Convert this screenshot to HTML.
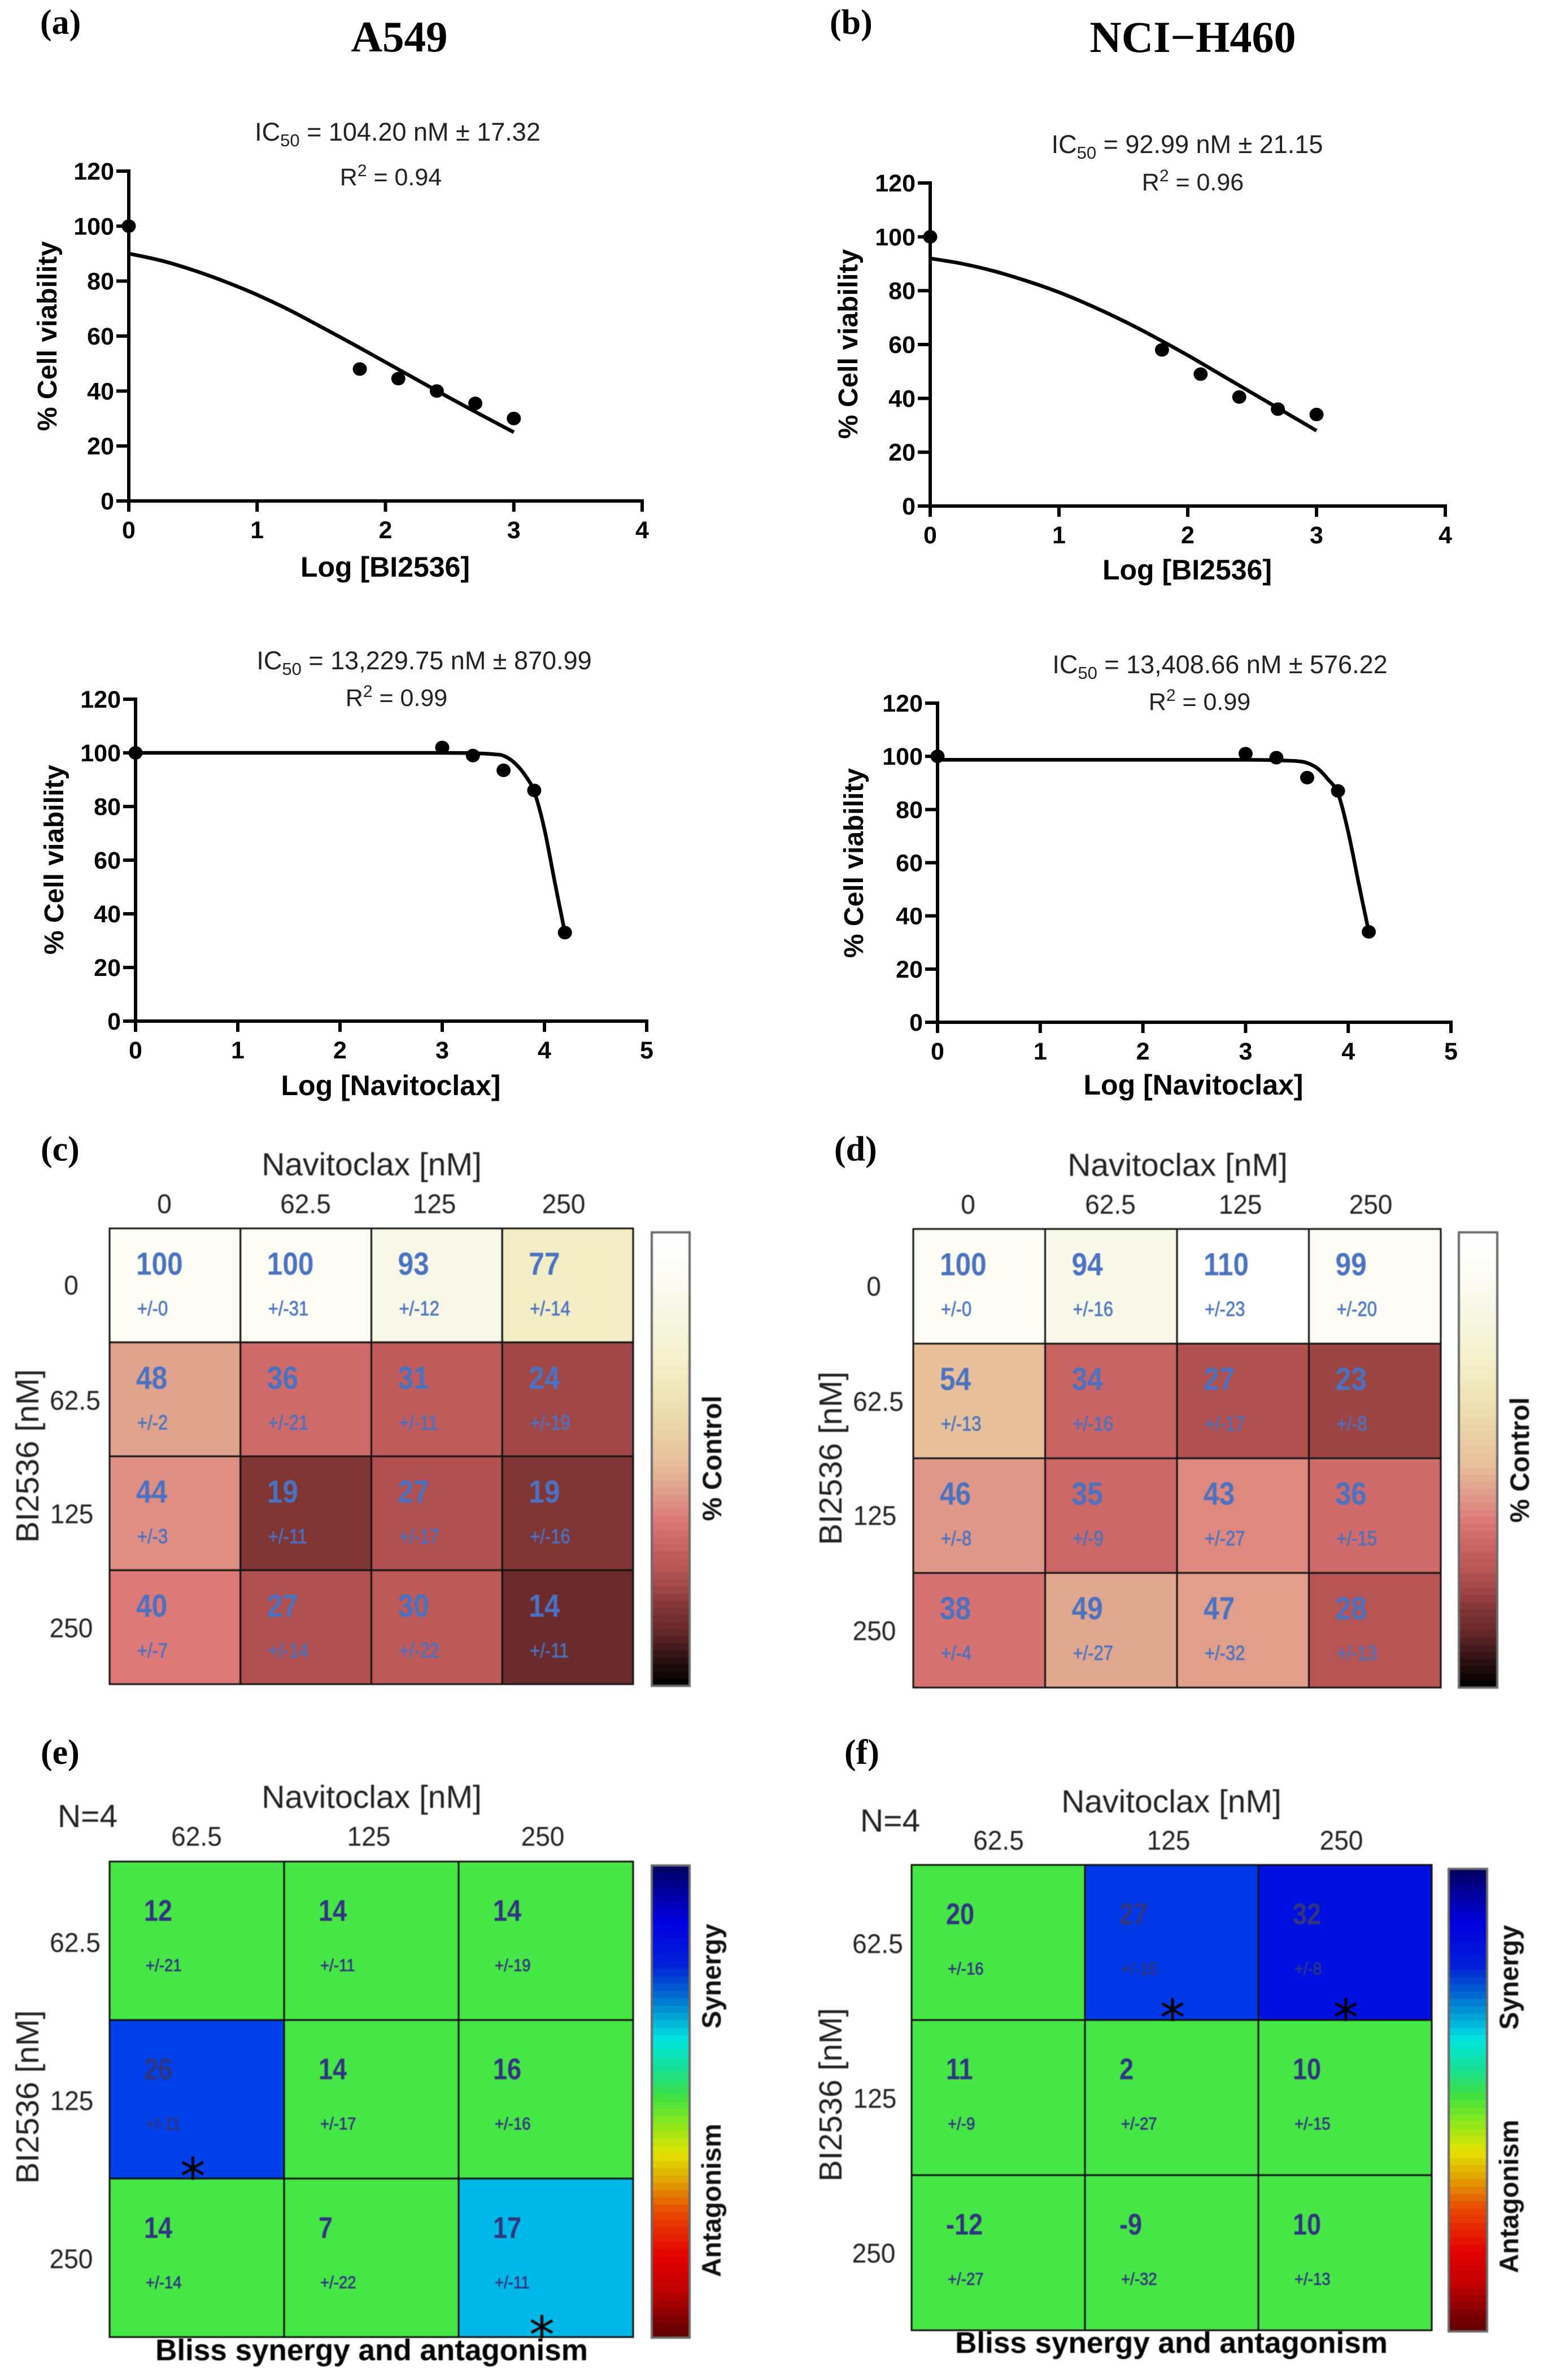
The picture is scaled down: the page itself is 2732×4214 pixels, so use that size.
<!DOCTYPE html>
<html lang="en">
<head>
<meta charset="utf-8">
<title>BI2536 and Navitoclax viability and synergy</title>
<style>
html,body{margin:0;padding:0;background:#fff;}
svg{display:block;}
text{font-family:"Liberation Sans",Arial,sans-serif;fill:#000;}
.serif{font-family:"Liberation Serif",serif;font-weight:bold;}
.tick{font-weight:bold;font-size:43px;}
.axt{font-weight:bold;font-size:50px;}
.ylab{font-weight:bold;font-size:48px;}
.ann{font-size:45px;fill:#222;}
.annr{font-size:43px;fill:#222;}
.hl{font-size:57px;fill:#222;}
.ht{font-size:48px;fill:#222;}
.side{font-weight:bold;font-size:47px;fill:#111;}
.soft{filter:blur(0.7px);}
</style>
</head>
<body>
<svg id="figure" xmlns="http://www.w3.org/2000/svg" width="2732" height="4214" viewBox="0 0 2732 4214">
<rect width="2732" height="4214" fill="#fff"/>

<text class="serif" x="71" y="60" font-size="62">(a)</text>
<text class="serif" x="1469" y="60" font-size="62">(b)</text>
<text class="serif" x="72" y="2055" font-size="62">(c)</text>
<text class="serif" x="1477" y="2055" font-size="62">(d)</text>
<text class="serif" x="72" y="3123" font-size="62">(e)</text>
<text class="serif" x="1495" y="3123" font-size="62">(f)</text>
<text class="serif" x="707" y="91" font-size="77" text-anchor="middle">A549</text>
<text class="serif" x="2112" y="92" font-size="78" text-anchor="middle">NCI−H460</text>

<text class="ann" x="704" y="249" text-anchor="middle">IC<tspan font-size="31" dy="10">50</tspan><tspan dy="-10"> = 104.20 nM ± 17.32</tspan></text>
<text class="annr" x="692" y="328" text-anchor="middle">R<tspan font-size="30" dy="-16">2</tspan><tspan dy="16"> = 0.94</tspan></text>
<text class="ann" x="2102" y="271" text-anchor="middle">IC<tspan font-size="31" dy="10">50</tspan><tspan dy="-10"> = 92.99 nM ± 21.15</tspan></text>
<text class="annr" x="2112" y="337" text-anchor="middle">R<tspan font-size="30" dy="-16">2</tspan><tspan dy="16"> = 0.96</tspan></text>
<text class="ann" x="751" y="1185" text-anchor="middle">IC<tspan font-size="31" dy="10">50</tspan><tspan dy="-10"> = 13,229.75 nM ± 870.99</tspan></text>
<text class="annr" x="702" y="1250" text-anchor="middle">R<tspan font-size="30" dy="-16">2</tspan><tspan dy="16"> = 0.99</tspan></text>
<text class="ann" x="2160" y="1192" text-anchor="middle">IC<tspan font-size="31" dy="10">50</tspan><tspan dy="-10"> = 13,408.66 nM ± 576.22</tspan></text>
<text class="annr" x="2124" y="1257" text-anchor="middle">R<tspan font-size="30" dy="-16">2</tspan><tspan dy="16"> = 0.99</tspan></text>

<text class="axt" x="682" y="1021" text-anchor="middle">Log [BI2536]</text>
<text class="axt" x="2102" y="1026" text-anchor="middle">Log [BI2536]</text>
<text class="axt" x="692" y="1939" text-anchor="middle">Log [Navitoclax]</text>
<text class="axt" x="2113" y="1938" text-anchor="middle">Log [Navitoclax]</text>
<text class="ylab" transform="translate(100 595) rotate(-90)" text-anchor="middle">% Cell viability</text>
<text class="ylab" transform="translate(1518 609) rotate(-90)" text-anchor="middle">% Cell viability</text>
<text class="ylab" transform="translate(112 1522) rotate(-90)" text-anchor="middle">% Cell viability</text>
<text class="ylab" transform="translate(1528 1528) rotate(-90)" text-anchor="middle">% Cell viability</text>

<g class="soft">
<text class="hl" x="658" y="2081" text-anchor="middle">Navitoclax [nM]</text>
<text class="hl" x="2085" y="2082" text-anchor="middle">Navitoclax [nM]</text>
<text class="hl" x="658" y="3201" text-anchor="middle">Navitoclax [nM]</text>
<text class="hl" x="2074" y="3209" text-anchor="middle">Navitoclax [nM]</text>
<text class="hl" transform="translate(68 2578) rotate(-90)" text-anchor="middle">BI2536 [nM]</text>
<text class="hl" transform="translate(1490 2582) rotate(-90)" text-anchor="middle">BI2536 [nM]</text>
<text class="hl" transform="translate(68 3713) rotate(-90)" text-anchor="middle">BI2536 [nM]</text>
<text class="hl" transform="translate(1490 3709) rotate(-90)" text-anchor="middle">BI2536 [nM]</text>
<text class="hl" x="102" y="3235" font-size="59">N=4</text>
<text class="hl" x="1523" y="3243" font-size="59">N=4</text>
<text x="658" y="4179" text-anchor="middle" font-size="53" font-weight="bold" fill="#111">Bliss synergy and antagonism</text>
<text x="2074" y="4166" text-anchor="middle" font-size="53" font-weight="bold" fill="#111">Bliss synergy and antagonism</text>
<text class="side" transform="translate(1277 2582) rotate(-90)" text-anchor="middle">% Control</text>
<text class="side" transform="translate(2707 2585) rotate(-90)" text-anchor="middle">% Control</text>
<text class="side" transform="translate(1276 3499) rotate(-90)" text-anchor="middle">Synergy</text>
<text class="side" transform="translate(1276 3896) rotate(-90)" text-anchor="middle">Antagonism</text>
<text class="side" transform="translate(2688 3501) rotate(-90)" text-anchor="middle">Synergy</text>
<text class="side" transform="translate(2688 3889) rotate(-90)" text-anchor="middle">Antagonism</text>
</g>
</svg>

<script>
// ---- dose-response data ----
const bi2536XTicks = [0, 1, 2, 3, 4];
const navitoclaxXTicks = [0, 1, 2, 3, 4, 5];
const viabilityYTicks = [0, 20, 40, 60, 80, 100, 120];

const bi2536FitX = [0, 0.25, 0.5, 0.75, 1, 1.25, 1.5, 1.75, 2, 2.25, 2.5, 2.75, 3];
const a549Bi2536FitY = [90, 87.5, 84, 79.8, 75, 69.5, 63.3, 57, 50.5, 44, 37.5, 31.2, 25];
const h460Bi2536FitY = [92, 90, 87.2, 83.6, 79.4, 74.4, 68.8, 62.6, 56, 49, 42, 35, 28];
const bi2536DotX = [0, 1.8, 2.1, 2.4, 2.7, 3];
const a549Bi2536DotY = [100, 48, 44.5, 40, 35.5, 30];
const h460Bi2536DotY = [100, 58, 49, 40.5, 36, 34];

const navitoclaxFitX = [0, 1, 2, 3, 3.3, 3.5, 3.6, 3.7, 3.8, 3.9, 4, 4.1, 4.2];
const a549NavitoclaxFitY = [100, 100, 100, 100, 99.9, 99.5, 98.9, 96.5, 92.2, 85.5, 71.5, 52, 33];
const h460NavitoclaxFitY = [98.7, 98.7, 98.7, 98.7, 98.5, 98.2, 97.5, 95.5, 91.5, 86, 71.5, 52.5, 34];
const navitoclaxDotX = [0, 3, 3.3, 3.6, 3.9, 4.2];
const a549NavitoclaxDotY = [100, 102, 99, 93.5, 86, 33];
const h460NavitoclaxDotY = [100, 101, 99.5, 92, 87, 34];

// ---- heatmap data ----
const viabilityColLabels = ['0', '62.5', '125', '250'];
const viabilityRowLabels = ['0', '62.5', '125', '250'];
const a549Viability = [[100, 100, 93, 77], [48, 36, 31, 24], [44, 19, 27, 19], [40, 27, 30, 14]];
const a549ViabilityErr = [[0, 31, 12, 14], [2, 21, 11, 19], [3, 11, 17, 16], [7, 14, 22, 11]];
const h460Viability = [[100, 94, 110, 99], [54, 34, 27, 23], [46, 35, 43, 36], [38, 49, 47, 28]];
const h460ViabilityErr = [[0, 16, 23, 20], [13, 16, 17, 8], [8, 9, 27, 15], [4, 27, 32, 13]];

const blissColLabels = ['62.5', '125', '250'];
const blissRowLabels = ['62.5', '125', '250'];
const a549Bliss = [[12, 14, 14], [26, 14, 16], [14, 7, 17]];
const a549BlissErr = [[21, 11, 19], [11, 17, 16], [14, 22, 11]];
const a549BlissSignificant = [[0, 0, 0], [1, 0, 0], [0, 0, 1]];
const h460Bliss = [[20, 27, 32], [11, 2, 10], [-12, -9, 10]];
const h460BlissErr = [[16, 16, 8], [9, 27, 15], [27, 32, 13]];
const h460BlissSignificant = [[0, 1, 1], [0, 0, 0], [0, 0, 0]];

// ---- colour scales ----
const controlScaleValues = [0, 5, 10, 14, 19, 23, 27, 28, 31, 36, 40, 48, 54, 66, 77, 85, 93, 100, 110];
const controlScaleColors = ['#000000', '#1f0c0c', '#4a1c1e', '#6b2a2c', '#803535', '#9d4444', '#b05050', '#b75454', '#bf5b5b', '#ce6a6a', '#dd7878', '#e0a38e', '#e8c09c', '#ecdcae', '#f3eec5', '#f6f5d8', '#f8f8e8', '#fdfdf6', '#ffffff'];
const blissScaleFractions = [0, 0.056, 0.12, 0.21, 0.28, 0.37, 0.435, 0.49, 0.54, 0.61, 0.67, 0.735, 0.83, 0.90, 0.96, 1];
const blissScaleColors = ['#00005c', '#0000a0', '#0000e0', '#0020d8', '#0070d0', '#00e5e0', '#18e090', '#40e040', '#80e820', '#e4e400', '#e0a000', '#e84800', '#e40000', '#c00000', '#800000', '#600000'];
const blissSigValues = [17, 26, 32];
const blissSigColors = ['#00b8e8', '#0040e8', '#0010e0'];
const blissNeutralColor = '#46e646';

const NS = 'http://www.w3.org/2000/svg';
const svg = document.getElementById('figure');

function make(parent, tag, attrs, text) {
  const el = document.createElementNS(NS, tag);
  for (const k in attrs) el.setAttribute(k, attrs[k]);
  if (text !== undefined) el.textContent = text;
  parent.appendChild(el);
  return el;
}
function linearScale(d0, d1, r0, r1) {
  return function (v) { return r0 + (v - d0) / (d1 - d0) * (r1 - r0); };
}
function hexToRgb(h) {
  return [parseInt(h.slice(1, 3), 16), parseInt(h.slice(3, 5), 16), parseInt(h.slice(5, 7), 16)];
}
function sampleScale(values, colors, v) {
  if (v <= values[0]) return colors[0];
  for (let i = 1; i < values.length; i++) {
    if (v <= values[i]) {
      const t = (v - values[i - 1]) / (values[i] - values[i - 1]);
      const a = hexToRgb(colors[i - 1]);
      const b = hexToRgb(colors[i]);
      return 'rgb(' + a.map(function (c, j) { return Math.round(c + (b[j] - c) * t); }).join(',') + ')';
    }
  }
  return colors[colors.length - 1];
}
function smoothPath(px, py) {
  let d = 'M' + px[0].toFixed(1) + ' ' + py[0].toFixed(1);
  for (let i = 0; i < px.length - 1; i++) {
    const i0 = Math.max(i - 1, 0);
    const i3 = Math.min(i + 2, px.length - 1);
    const s = 1 / 6;
    let c1y = py[i] + (py[i + 1] - py[i0]) * s;
    let c2y = py[i + 1] - (py[i3] - py[i]) * s;
    const lo = Math.min(py[i], py[i + 1]);
    const hi = Math.max(py[i], py[i + 1]);
    c1y = Math.max(lo, Math.min(hi, c1y));
    c2y = Math.max(lo, Math.min(hi, c2y));
    const c1x = px[i] + (px[i + 1] - px[i0]) * s;
    const c2x = px[i + 1] - (px[i3] - px[i]) * s;
    d += 'C' + c1x.toFixed(1) + ' ' + c1y.toFixed(1) + ' ' + c2x.toFixed(1) + ' ' + c2y.toFixed(1) + ' ' + px[i + 1].toFixed(1) + ' ' + py[i + 1].toFixed(1);
  }
  return d;
}

function drawCurvePanel(name, box, xTicks, fitX, fitY, dotX, dotY) {
  const g = make(svg, 'g', {});
  
  
  const xMax = xTicks[xTicks.length - 1];
  const yMax = viabilityYTicks[viabilityYTicks.length - 1];
  const x = linearScale(0, xMax, box.x0, box.x1);
  const y = linearScale(0, yMax, box.y0, box.y1);

  const axisX = make(g, 'line', { x1: x(0) - 3, x2: x(xMax) + 3, y1: y(0), y2: y(0), stroke: '#000', 'stroke-width': 6 });
  
  
  const axisY = make(g, 'line', { x1: x(0), x2: x(0), y1: y(0) + 3, y2: y(yMax) - 3, stroke: '#000', 'stroke-width': 6 });
  
  

  xTicks.forEach(function (t) {
    const tick = make(g, 'line', { x1: x(t), x2: x(t), y1: y(0), y2: y(0) + 19, stroke: '#000', 'stroke-width': 6 });
    
    
    const lab = make(g, 'text', { x: x(t), y: y(0) + 66, 'text-anchor': 'middle', class: 'tick' }, String(t));
    
    
  });
  viabilityYTicks.forEach(function (t) {
    const tick = make(g, 'line', { x1: x(0) - 22, x2: x(0), y1: y(t), y2: y(t), stroke: '#000', 'stroke-width': 6 });
    
    
    const lab = make(g, 'text', { x: x(0) - 26, y: y(t) + 15, 'text-anchor': 'end', class: 'tick' }, String(t));
    
    
  });

  const curve = make(g, 'path', { d: smoothPath(fitX.map(x), fitY.map(y)), fill: 'none', stroke: '#000', 'stroke-width': 6.5, 'stroke-linejoin': 'round' });
  
  

  dotX.forEach(function (v, i) {
    const dot = make(g, 'ellipse', { cx: x(v), cy: y(dotY[i]), rx: 12.5, ry: 12, fill: '#000' });
    
    
  });
}

function drawHeatmap(name, box, values, errors, cellColor, textStyle, stars) {
  const g = make(svg, 'g', { class: 'soft' });
  
  
  const rows = values.length;
  const cols = values[0].length;
  const col = linearScale(0, cols, box.left, box.right);
  const row = linearScale(0, rows, box.top, box.bottom);
  for (let r = 0; r < rows; r++) {
    for (let c = 0; c < cols; c++) {
      const cell = make(g, 'rect', { x: col(c), y: row(r), width: col(c + 1) - col(c), height: row(r + 1) - row(r), fill: cellColor(r, c), stroke: '#111', 'stroke-width': 3 });
      
      
    }
  }
  for (let r = 0; r < rows; r++) {
    for (let c = 0; c < cols; c++) {
      const val = make(g, 'text', { transform: 'translate(' + (col(c) + textStyle.valDx) + ' ' + (row(r) + textStyle.valY) + ') scale(' + textStyle.valSx + ' 1)', 'font-size': textStyle.valSize, 'font-weight': 'bold', style: 'fill:' + textStyle.color }, String(values[r][c]));
      
      
      const err = make(g, 'text', { transform: 'translate(' + (col(c) + textStyle.errDx) + ' ' + (row(r) + textStyle.errY) + ') scale(' + textStyle.errSx + ' 1)', 'font-size': textStyle.errSize, stroke: textStyle.color, 'stroke-width': 0.7, style: 'fill:' + textStyle.color }, '+/-' + errors[r][c]);
      
      
      if (stars && stars[r][c]) {
        const star = make(g, 'text', { x: col(c) + (col(c + 1) - col(c)) * textStyle.starFrac, y: row(r + 1) + 28, 'text-anchor': 'middle', 'font-size': 90, style: 'font-family:"DejaVu Sans",sans-serif;fill:#000' }, '*');
        
        
      }
    }
  }
}

function drawLabels(name, labels, xs, y, anchorY) {
  const g = make(svg, 'g', { class: 'soft' });
  
  
  labels.forEach(function (t, i) {
    const lab = make(g, 'text', { transform: 'translate(' + xs[i] + ' ' + (anchorY ? anchorY[i] : y) + ') scale(0.96 1)', 'text-anchor': 'middle', class: 'ht' }, t);
    
    
  });
}

function drawColorbar(name, box, colorAt) {
  const g = make(svg, 'g', { class: 'soft' });
  
  
  const steps = 64;
  const pos = linearScale(0, steps, box.top, box.bottom);
  for (let i = 0; i < steps; i++) {
    const s = make(g, 'rect', { x: box.left, y: pos(i), width: box.right - box.left, height: pos(i + 1) - pos(i) + 0.6, fill: colorAt((i + 0.5) / steps) });
    
    
  }
  const frame = make(g, 'rect', { x: box.left, y: box.top, width: box.right - box.left, height: box.bottom - box.top, fill: 'none', stroke: '#6a6a6a', 'stroke-width': 4 });
  
  
}

drawCurvePanel('dose-response-a549-bi2536', { x0: 228, x1: 1137, y0: 887, y1: 303 }, bi2536XTicks, bi2536FitX, a549Bi2536FitY, bi2536DotX, a549Bi2536DotY);
drawCurvePanel('dose-response-h460-bi2536', { x0: 1647, x1: 2559, y0: 896, y1: 324 }, bi2536XTicks, bi2536FitX, h460Bi2536FitY, bi2536DotX, h460Bi2536DotY);
drawCurvePanel('dose-response-a549-navitoclax', { x0: 240, x1: 1145, y0: 1808, y1: 1238 }, navitoclaxXTicks, navitoclaxFitX, a549NavitoclaxFitY, navitoclaxDotX, a549NavitoclaxDotY);
drawCurvePanel('dose-response-h460-navitoclax', { x0: 1660, x1: 2569, y0: 1810, y1: 1245 }, navitoclaxXTicks, navitoclaxFitX, h460NavitoclaxFitY, navitoclaxDotX, h460NavitoclaxDotY);

const viabilityText = { valDx: 47, errDx: 49, valY: 82, errY: 154, valSize: 57, valSx: 0.87, errSize: 36, errSx: 0.86, color: '#4a72c0', starFrac: 0.49 };
const blissTextE = { valDx: 61, errDx: 64, valY: 105, errY: 194, valSize: 53, valSx: 0.85, errSize: 31, errSx: 0.89, color: '#31357f', starFrac: 0.477 };
const blissTextF = { valDx: 61, errDx: 64, valY: 105, errY: 194, valSize: 53, valSx: 0.85, errSize: 31, errSx: 0.89, color: '#31357f', starFrac: 0.505 };

drawHeatmap('viability-heatmap-a549', { left: 194, right: 1121, top: 2175, bottom: 2982 }, a549Viability, a549ViabilityErr,
  function (r, c) { return sampleScale(controlScaleValues, controlScaleColors, a549Viability[r][c]); }, viabilityText, null);
drawHeatmap('viability-heatmap-h460', { left: 1617, right: 2551, top: 2176, bottom: 2988 }, h460Viability, h460ViabilityErr,
  function (r, c) { return sampleScale(controlScaleValues, controlScaleColors, h460Viability[r][c]); }, viabilityText, null);
drawHeatmap('bliss-heatmap-a549', { left: 194, right: 1121, top: 3296, bottom: 4138 }, a549Bliss, a549BlissErr,
  function (r, c) { return a549BlissSignificant[r][c] ? sampleScale(blissSigValues, blissSigColors, a549Bliss[r][c]) : blissNeutralColor; }, blissTextE, a549BlissSignificant);
drawHeatmap('bliss-heatmap-h460', { left: 1614, right: 2535, top: 3302, bottom: 4126 }, h460Bliss, h460BlissErr,
  function (r, c) { return h460BlissSignificant[r][c] ? sampleScale(blissSigValues, blissSigColors, h460Bliss[r][c]) : blissNeutralColor; }, blissTextF, h460BlissSignificant);

drawLabels('col-labels-c', viabilityColLabels, [291, 541, 769, 998], 2148);
drawLabels('row-labels-c', viabilityRowLabels, [126, 133, 127, 126], 0, [2292, 2496, 2697, 2899]);
drawLabels('col-labels-d', viabilityColLabels, [1714, 1966, 2196, 2427], 2149);
drawLabels('row-labels-d', viabilityRowLabels, [1547, 1555, 1549, 1548], 0, [2294, 2498, 2700, 2904]);
drawLabels('col-labels-e', blissColLabels, [348, 653, 961], 3268);
drawLabels('row-labels-e', blissRowLabels, [133, 127, 126], 0, [3456, 3736, 4016]);
drawLabels('col-labels-f', blissColLabels, [1768, 2069, 2375], 3275);
drawLabels('row-labels-f', blissRowLabels, [1554, 1549, 1547], 0, [3458, 3732, 4006]);

function controlColorAt(f) { return sampleScale(controlScaleValues, controlScaleColors, (1 - f) * 110); }
function blissColorAt(f) { return sampleScale(blissScaleFractions, blissScaleColors, f); }
drawColorbar('colorbar-control-c', { left: 1154, right: 1221, top: 2182, bottom: 2985 }, controlColorAt);
drawColorbar('colorbar-control-d', { left: 2583, right: 2651, top: 2182, bottom: 2988 }, controlColorAt);
drawColorbar('colorbar-bliss-e', { left: 1154, right: 1221, top: 3303, bottom: 4139 }, blissColorAt);
drawColorbar('colorbar-bliss-f', { left: 2565, right: 2633, top: 3309, bottom: 4128 }, blissColorAt);
</script>
</body>
</html>
